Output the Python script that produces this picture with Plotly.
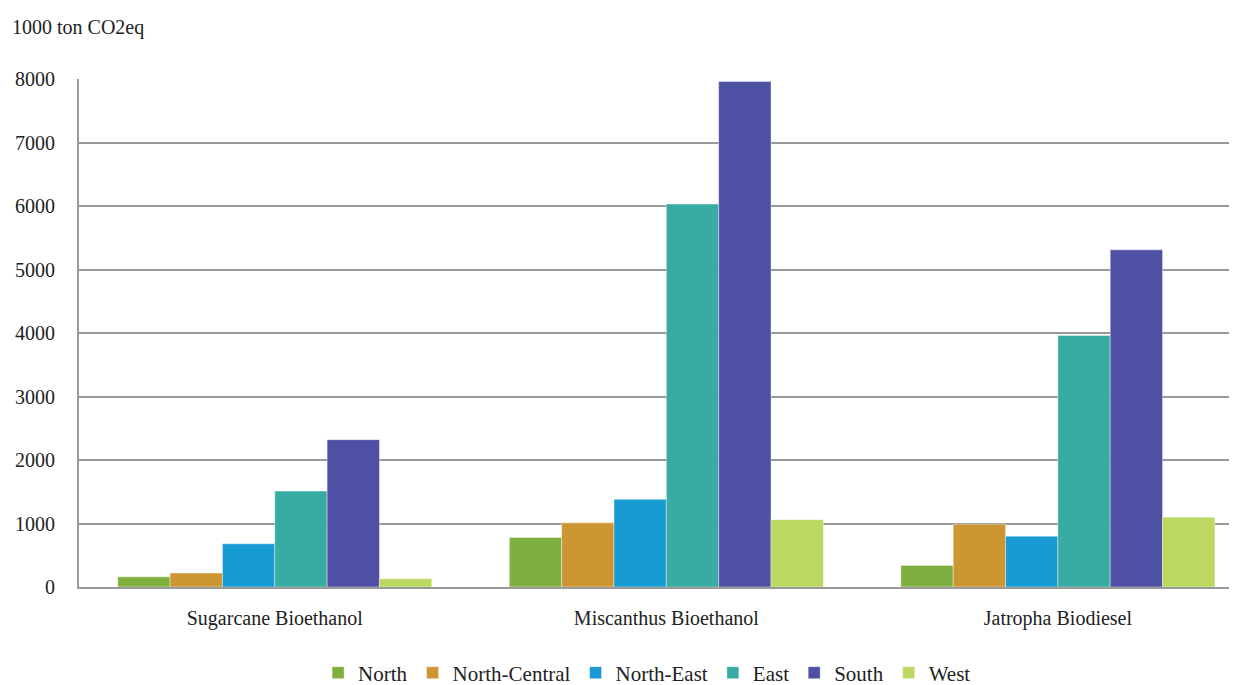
import plotly.graph_objects as go

categories = ["Sugarcane Bioethanol", "Miscanthus Bioethanol", "Jatropha Biodiesel"]
series_names = ["North", "North-Central", "North-East", "East", "South", "West"]
north = [160, 780, 340]
north_central = [220, 1010, 990]
north_east = [680, 1380, 800]
east = [1510, 6030, 3960]
south = [2320, 7960, 5310]
west = [130, 1060, 1100]
colors = ["#7FB03F", "#CC9632", "#189AD3", "#38ABA2", "#4E51A3", "#BDD861"]
y_ticks = [0, 1000, 2000, 3000, 4000, 5000, 6000, 7000, 8000]

values = [north, north_central, north_east, east, south, west]
font_family = "Liberation Serif"
FS = 20

fig = go.Figure()
for name, vals, col in zip(series_names, values, colors):
    fig.add_trace(go.Bar(
        x=categories, y=vals, name=name,
        marker=dict(color=col, line=dict(color="rgba(255,255,255,0.5)", width=0.8)),
    ))

fig.update_layout(
    width=1243, height=685,
    margin=dict(l=79, r=14, t=79, b=98),
    paper_bgcolor="white", plot_bgcolor="white",
    barmode="group", bargap=0.198, bargroupgap=0,
    font=dict(family=font_family, size=FS, color="#222222"),
    showlegend=True,
    legend=dict(orientation="h", x=0.494, xanchor="center",
                yref="container", y=12/685, yanchor="middle",
                font=dict(family=font_family, size=21, color="#222222"),
                itemwidth=30, traceorder="normal"),
)
fig.add_annotation(text="1000 ton CO2eq", xref="paper", yref="paper",
                   x=(10-79)/1150, y=1 + 51/508, xanchor="left", yanchor="middle",
                   showarrow=False, font=dict(family=font_family, size=FS, color="#222222"))

fig.update_yaxes(range=[0, 8000], tickvals=y_ticks, showgrid=True, gridcolor="#999999",
                 gridwidth=2, showline=True, linecolor="#999999", linewidth=2,
                 zeroline=False, ticklabelstandoff=18,
                 tickfont=dict(family=font_family, size=FS, color="#222222"))
fig.update_xaxes(range=[-0.5, 2.437], showline=True, linecolor="#999999", linewidth=2,
                 ticks="", ticklabelstandoff=12,
                 tickfont=dict(family=font_family, size=FS, color="#222222"))

fig.write_html("out.html")
